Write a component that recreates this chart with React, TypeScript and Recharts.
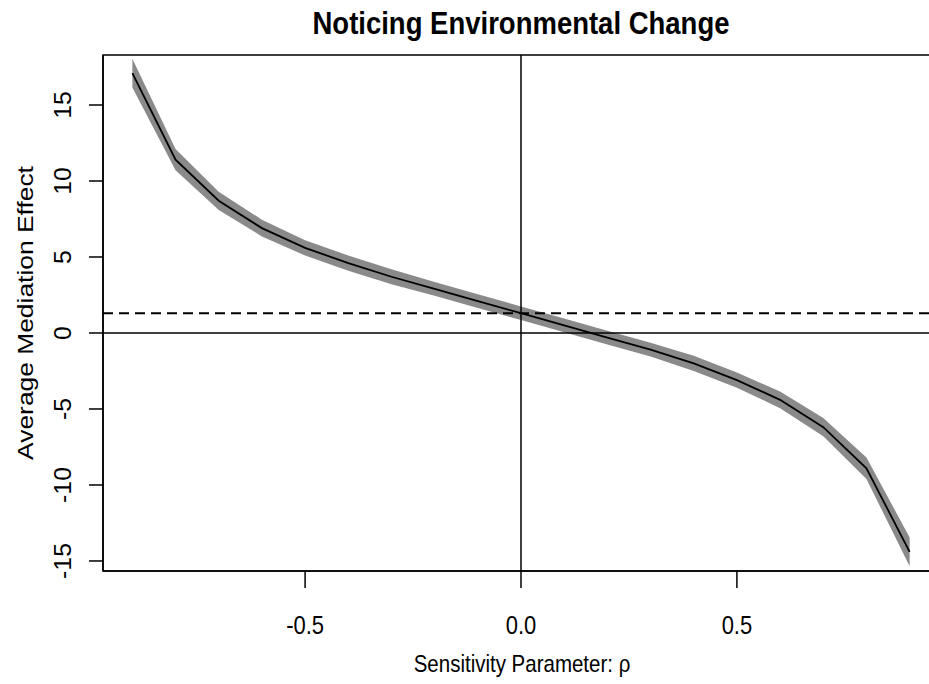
import React from 'react';
import {
  ComposedChart,
  Area,
  Line,
  XAxis,
  YAxis,
  ReferenceLine,
  ReferenceArea,
} from 'recharts';

// sensitivity parameter rho
const rho = [-0.9, -0.8, -0.7, -0.6, -0.5, -0.4, -0.3, -0.2, -0.1, 0, 0.1, 0.2, 0.3, 0.4, 0.5, 0.6, 0.7, 0.8, 0.9];
// average mediation effect (point estimate)
const estimate = [17.1, 11.4, 8.7, 6.9, 5.6, 4.6, 3.7, 2.9, 2.1, 1.3, 0.5, -0.3, -1.1, -2.0, -3.1, -4.4, -6.2, -8.9, -14.4];
// confidence band
const upper = [18.05, 12.1, 9.3, 7.45, 6.1, 5.1, 4.2, 3.35, 2.55, 1.75, 0.95, 0.15, -0.65, -1.5, -2.6, -3.85, -5.6, -8.2, -13.45];
const lower = [16.15, 10.7, 8.1, 6.35, 5.1, 4.1, 3.2, 2.45, 1.65, 0.85, 0.05, -0.75, -1.55, -2.5, -3.6, -4.95, -6.8, -9.6, -15.35];

const observedEffect = 1.3;

const xTicks = [-0.5, 0, 0.5];
const yTicks = [-15, -10, -5, 0, 5, 10, 15];
const xDomain: [number, number] = [-0.968, 0.968];
const yDomain: [number, number] = [-15.66, 18.29];

const FONT = '"Liberation Sans", Arial, Helvetica, sans-serif';

const data = rho.map((r, i) => ({
  rho: r,
  est: estimate[i],
  band: [lower[i], upper[i]],
}));

// the source image is a bit stretched vertically, so text gets a small scale
const YTick = (props: any) => {
  const { x, y, payload } = props;
  return (
    <text
      transform={`translate(${x - 16},${y}) rotate(-90) scale(1.08,1)`}
      textAnchor="middle"
      fontSize={23}
      fontFamily={FONT}
      fill="#000"
    >
      {payload.value}
    </text>
  );
};

const XTick = (props: any) => {
  const { x, y, payload } = props;
  return (
    <g transform={`translate(${x},${y + 44}) scale(1,1.15)`}>
      <text x={0} y={0} textAnchor="middle" fontSize={22} fontFamily={FONT} fill="#000">
        {payload.value.toFixed(1)}
      </text>
    </g>
  );
};

export default function App() {
  return (
    <div style={{ position: 'absolute', left: 0, top: 0, width: 929, height: 684, overflow: 'hidden', background: '#fff' }}>
      <ComposedChart
        width={950}
        height={684}
        data={data}
        margin={{ top: 55, right: 11, bottom: 0, left: 0 }}
      >
        <XAxis
          dataKey="rho"
          type="number"
          domain={xDomain}
          ticks={xTicks}
          tick={<XTick />}
          tickSize={17}
          height={113}
          axisLine={{ stroke: '#000', strokeWidth: 1.5 }}
          tickLine={{ stroke: '#000', strokeWidth: 1.5 }}
        />
        <YAxis
          type="number"
          domain={yDomain}
          ticks={yTicks}
          tick={<YTick />}
          tickSize={14}
          width={103}
          axisLine={{ stroke: '#000', strokeWidth: 1.5 }}
          tickLine={{ stroke: '#000', strokeWidth: 1.5 }}
        />
        <ReferenceArea
          x1={xDomain[0]}
          x2={xDomain[1]}
          y1={yDomain[0]}
          y2={yDomain[1]}
          fill="none"
          stroke="#000"
          strokeWidth={1.5}
        />
        <Area
          dataKey="band"
          type="linear"
          fill="#8a8a8a"
          fillOpacity={1}
          stroke="none"
          isAnimationActive={false}
        />
        <Line
          dataKey="est"
          type="linear"
          stroke="#000"
          strokeWidth={1.8}
          dot={false}
          isAnimationActive={false}
        />
        <ReferenceLine x={0} stroke="#000" strokeWidth={1.5} />
        <ReferenceLine y={0} stroke="#000" strokeWidth={1.5} />
        <ReferenceLine y={observedEffect} stroke="#000" strokeWidth={2} strokeDasharray="10 6" />
        <g transform="translate(521,34) scale(1,1.12)">
          <text x={0} y={0} textAnchor="middle" fontSize={27.5} fontWeight="bold" fontFamily={FONT} fill="#000">
            Noticing Environmental Change
          </text>
        </g>
        <g transform="translate(522,672) scale(1,1.15)">
          <text x={0} y={0} textAnchor="middle" fontSize={20.5} fontFamily={FONT} fill="#000">
            Sensitivity Parameter: ρ
          </text>
        </g>
        <text
          transform="translate(33,313) rotate(-90) scale(1.2,1)"
          textAnchor="middle"
          fontSize={22}
          fontFamily={FONT}
          fill="#000"
        >
          Average Mediation Effect
        </text>
      </ComposedChart>
    </div>
  );
}
